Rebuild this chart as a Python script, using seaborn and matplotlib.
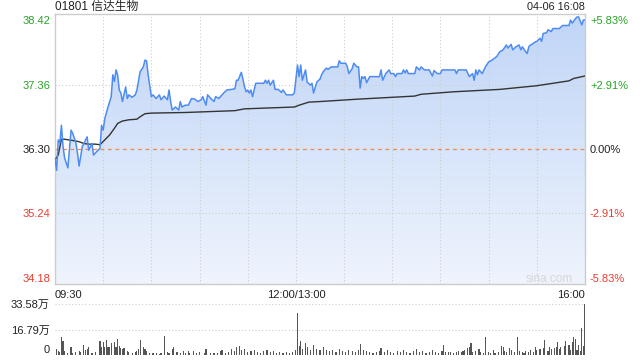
import numpy as np
import pandas as pd
import matplotlib
matplotlib.use("Agg")
import matplotlib.pyplot as plt
from matplotlib.colors import LinearSegmentedColormap
import seaborn as sns

# ---------------- data ----------------
title = "01801 信达生物"
stamp = "04-06 16:08"
prev_close = 36.30
price_ticks = [38.42, 37.36, 36.30, 35.24, 34.18]
price_tick_labels = ["38.42", "37.36", "36.30", "35.24", "34.18"]
pct_labels = ["+5.83%", "+2.91%", "0.00%", "-2.91%", "-5.83%"]
time_labels = ["09:30", "12:00/13:00", "16:00"]
time_label_minutes = [0, 150, 330]          # trading minutes since 09:30
vol_ticks = [33.58, 16.79, 0]
vol_tick_labels = ["33.58万", "16.79万", "0"]

# price line (trading minute, price)
minute = [0, 1, 2, 3, 4, 5, 6, 8, 10, 11, 13, 14, 15, 17, 18, 20, 21, 23, 24, 26,
          28, 29, 30, 31, 33, 35, 36, 37, 38, 39, 40, 41, 42, 44, 45, 46, 48, 50, 51, 53,
          55, 56, 57, 58, 60, 61, 63, 65, 66, 68, 70, 71, 72, 73, 75, 77, 78, 79, 81,
          83, 85, 87, 89, 91, 92, 94, 95, 97, 99, 100, 102, 104, 105, 107, 110, 112, 113, 114, 116,
          117, 118, 119, 120, 121, 122, 123, 125, 127, 130, 131, 132, 133, 134, 136, 137, 139, 141, 142, 144,
          146, 148, 149, 151, 152, 153, 154, 156, 157, 159, 160, 161, 163, 165,
          166, 167, 169, 170, 172, 174, 176, 177, 178, 181, 182, 183, 185, 186, 188, 189, 190, 191, 192, 193,
          194, 196, 199, 202, 203, 204, 206, 208, 209, 211, 212, 213, 216, 217, 218, 219, 220, 223, 224, 225,
          227, 228, 230, 232, 233, 235, 236, 238, 240, 241, 245, 248,
          249, 250, 251, 256, 258, 260, 261, 262, 263, 264, 266, 268, 270, 272, 275, 277, 279, 281, 282, 284,
          285, 287, 289, 290, 291, 293, 294, 295, 296, 297, 299, 300, 302, 303, 304, 306, 307, 309, 310, 312,
          314, 316, 320, 321, 322, 324, 325, 326, 328, 329, 330]
price = [36.15, 35.95, 36.45, 36.40, 36.69, 36.34, 36.15, 35.99, 36.61, 36.56, 36.40, 36.23, 36.02, 36.34, 36.39, 36.50, 36.28, 36.39, 36.20, 36.26,
         36.31, 36.69, 36.61, 36.80, 36.99, 37.16, 37.52, 37.41, 37.60, 37.52, 37.27, 37.22, 37.08, 37.32, 37.13, 37.19, 37.15, 37.19, 37.27, 37.57,
         37.65, 37.76, 37.75, 37.52, 37.16, 37.19, 37.13, 37.19, 37.11, 37.17, 37.11, 37.27, 37.08, 36.94, 36.99, 36.94, 37.08, 36.99, 37.02,
         37.02, 37.13, 37.12, 37.08, 37.11, 37.16, 37.02, 37.19, 37.13, 37.08, 37.16, 37.13, 37.19, 37.22, 37.27, 37.28, 37.29, 37.43, 37.43, 37.56,
         37.45, 37.32, 37.24, 37.27, 37.22, 37.27, 37.16, 37.38, 37.38, 37.38, 37.43, 37.38, 37.43, 37.35, 37.43, 37.28, 37.28, 37.23, 37.27, 37.19,
         37.19, 37.19, 37.22, 37.68, 37.49, 37.68, 37.43, 37.60, 37.40, 37.35, 37.38, 37.22, 37.40, 37.45,
         37.52, 37.57, 37.63, 37.61, 37.65, 37.65, 37.65, 37.75, 37.71, 37.71, 37.65, 37.54, 37.62, 37.71, 37.65, 37.65, 37.30, 37.49, 37.46, 37.49,
         37.39, 37.49, 37.49, 37.49, 37.60, 37.43, 37.54, 37.60, 37.54, 37.54, 37.49, 37.54, 37.54, 37.60, 37.55, 37.60, 37.54, 37.54, 37.54, 37.65,
         37.60, 37.65, 37.60, 37.60, 37.60, 37.50, 37.59, 37.54, 37.54, 37.60, 37.60, 37.60,
         37.60, 37.54, 37.60, 37.60, 37.49, 37.54, 37.43, 37.60, 37.52, 37.60, 37.54, 37.65, 37.73, 37.76, 37.82, 37.90, 37.93, 38.01, 37.96, 38.02,
         37.93, 37.98, 38.01, 37.93, 37.98, 37.90, 37.87, 37.98, 38.01, 38.02, 38.06, 38.07, 38.12, 38.07, 38.20, 38.21, 38.26, 38.23, 38.28, 38.28,
         38.28, 38.33, 38.33, 38.42, 38.37, 38.44, 38.47, 38.47, 38.34, 38.42, 38.42]

# average-price line
avg_minute = [0, 2, 4, 6, 11, 15, 18, 21, 25, 28, 31, 34, 37, 39, 42, 46, 51, 53, 56, 60,
              81, 112, 118, 149, 152, 158, 165, 189, 224, 228, 248, 277, 300, 320, 323, 330]
avg_price = [36.12, 36.20, 36.46, 36.46, 36.44, 36.42, 36.39, 36.38, 36.38, 36.37, 36.45, 36.53, 36.64, 36.72, 36.76, 36.78, 36.79, 36.83, 36.88, 36.89,
             36.90, 36.93, 36.96, 36.99, 37.02, 37.07, 37.08, 37.12, 37.17, 37.20, 37.24, 37.28, 37.34, 37.42, 37.46, 37.50]

# volume (万股)
vol_minute = [1, 2, 3, 4, 5, 6, 8, 10, 11, 13, 15, 16, 18, 19, 20, 21, 23, 25, 28, 29,
              30, 31, 32, 33, 34, 35, 37, 38, 39, 40, 41, 42, 43, 45, 46, 48, 50, 51, 52, 53,
              55, 56, 57, 59, 61, 63, 65, 66, 68, 70, 71, 73, 74, 76, 78, 80, 81, 83, 84, 86,
              88, 90, 93, 94, 97, 99, 101,
              103, 104, 106, 108, 110, 112, 113, 115, 116, 118, 120, 122, 124, 126, 128, 130, 132, 134, 136, 138,
              140, 142, 144, 146, 148, 150, 151, 152, 153, 154, 156, 157, 159, 161, 163, 165, 167, 169, 171, 173,
              175, 177, 179, 181, 183, 185, 187, 189, 190, 192, 194, 196, 198, 200, 202, 203, 205, 207, 209, 211,
              213, 215, 217, 219, 221, 223, 225, 227, 229, 231, 233, 235, 237, 239,
              241, 242, 243, 245, 246, 248, 250, 251, 253, 254, 255, 257, 258, 259, 260, 262, 264, 265, 267, 268,
              270, 271, 273, 274, 276, 278, 279, 280, 281, 283, 284, 286, 288, 289, 291, 292, 293, 295, 296, 298,
              299, 300, 302, 304, 305, 307, 308, 309, 311, 312, 313, 314, 315, 317, 318, 320, 321, 322, 323, 324,
              325, 326, 327, 328, 329, 330]
vol_wan = [3.7, 2.8, 2.2, 11.6, 9.4, 2.5, 1.0, 5.1, 1.5, 2.0, 2.8, 2.0, 6.6, 3.0, 3.7, 5.0, 1.5, 2.0, 9.4, 5.5,
           8.8, 5.0, 9.9, 5.0, 5.0, 8.0, 8.8, 5.0, 10.4, 6.0, 4.4, 3.7, 4.4, 2.5, 2.0, 1.5, 2.0, 2.5, 4.0, 9.9,
           5.0, 3.7, 2.5, 1.5, 1.0, 1.5, 0.6, 1.0, 12.5, 2.0, 1.0, 3.7, 5.0, 2.0, 1.5, 2.5, 1.5, 2.5, 1.5, 2.5,
           1.5, 2.0, 1.5, 3.7, 1.5, 1.0, 1.5,
           2.5, 3.0, 1.5, 2.0, 4.0, 2.5, 5.5, 6.0, 3.0, 4.0, 2.0, 2.5, 3.5, 2.0, 1.5, 2.5, 3.0, 2.0, 2.5, 1.5,
           2.0, 1.5, 2.0, 1.5, 2.0, 3.0, 27.6, 6.0, 9.0, 4.0, 8.0, 5.0, 3.5, 6.5, 4.0, 3.0, 5.0, 3.5, 2.5, 3.0,
           2.0, 4.0, 2.5, 2.0, 3.0, 2.5, 2.0, 3.0, 7.0, 3.5, 2.5, 2.0, 1.5, 2.0, 2.5, 4.5, 2.0, 3.0, 2.0, 1.5,
           2.5, 2.0, 3.0, 2.0, 1.5, 2.5, 4.0, 2.0, 2.5, 1.5, 2.0, 3.5, 2.0, 1.5,
           2.9, 6.6, 2.2, 2.2, 1.8, 1.5, 2.2, 2.9, 2.2, 2.9, 3.3, 4.4, 5.0, 8.1, 2.2, 2.9, 3.7, 2.2, 1.5, 11.6,
           2.2, 1.5, 3.3, 1.5, 2.2, 5.9, 5.0, 2.9, 2.2, 4.4, 3.3, 2.2, 11.6, 2.9, 2.2, 1.5, 2.9, 2.2, 3.3, 2.2,
           5.0, 3.3, 3.7, 4.4, 9.9, 2.9, 5.0, 3.7, 4.4, 5.0, 8.8, 3.7, 5.0, 5.9, 9.4, 6.6, 3.3, 8.8, 11.6, 10.3,
           3.3, 6.6, 2.9, 17.5, 5.9, 33.58]

# ---------------- style ----------------
sns.set_theme(style="white")
plt.rcParams["font.family"] = ["Liberation Sans", "Noto Sans CJK SC", "DejaVu Sans"]

GREEN = "#27a327"
RED = "#ee3b2f"
DARK = "#222222"
GRID = "#cdcdcd"
label_colors = [GREEN, GREEN, DARK, RED, RED]

W, H = 640, 360
fig = plt.figure(figsize=(6.4, 3.6), dpi=100)
ax = fig.add_axes([55 / W, 1 - 284 / H, 530 / W, 270 / H])
axv = fig.add_axes([55 / W, 1 - 355 / H, 530 / W, 51 / H])

ymin, ymax = 34.081, 38.519
ax.set_xlim(0, 330)
ax.set_ylim(ymin, ymax)

df = pd.DataFrame({"minute": minute, "price": price})
dfa = pd.DataFrame({"minute": avg_minute, "avg": avg_price})

# gradient area under price line
poly = ax.fill_between(df["minute"], df["price"], ymin, facecolor="none", edgecolor="none")
grad = np.linspace(0, 1, 256).reshape(-1, 1)
cmap = LinearSegmentedColormap.from_list("g", ["#c0d5f7", "#eff4fd"])
im = ax.imshow(grad, extent=[0, 330, ymin, ymax], origin="upper", aspect="auto",
               cmap=cmap, zorder=1)
im.set_clip_path(poly.get_paths()[0], transform=ax.transData)

# grid
for m in range(30, 330, 30):
    ax.axvline(m, color=GRID, lw=0.8, ls=(0, (1, 2)), zorder=2)
for v in (price_ticks[1], price_ticks[3]):
    ax.axhline(v, color=GRID, lw=0.8, ls=(0, (1, 2)), zorder=2)
ax.axhline(prev_close, color="#f08a52", lw=0.9, ls=(0, (3, 3)), zorder=2)

sns.lineplot(data=df, x="minute", y="price", ax=ax, color="#4d8cf2", linewidth=1.1, zorder=4)
sns.lineplot(data=dfa, x="minute", y="avg", ax=ax, color="#333333", linewidth=1.0, zorder=3)
ax.set_xlabel("")
ax.set_ylabel("")

for s in ax.spines.values():
    s.set_color("#cccccc")
    s.set_linewidth(1.0)

ax.set_yticks(price_ticks)
ax.set_yticklabels(price_tick_labels)
ax.tick_params(axis="y", length=0, pad=3.6, labelsize=8)
for lab, c in zip(ax.get_yticklabels(), label_colors):
    lab.set_color(c)

ax.set_xticks(time_label_minutes)
ax.set_xticklabels(time_labels)
ax.tick_params(axis="x", length=0, pad=4, labelsize=8, labelcolor=DARK)
xl = ax.get_xticklabels()
xl[0].set_ha("left")
xl[2].set_ha("right")

ax2 = ax.twinx()
ax2.set_ylim(ymin, ymax)
ax2.set_yticks(price_ticks)
ax2.set_yticklabels(pct_labels)
ax2.tick_params(axis="y", length=0, pad=3.6, labelsize=8)
for lab, c in zip(ax2.get_yticklabels(), label_colors):
    lab.set_color(c)
for s in ax2.spines.values():
    s.set_visible(False)
ax2.grid(False)

ax.text(0.977, 0.02, "sina.com", transform=ax.transAxes, ha="right", va="center",
        color="#d6d6d6", fontsize=8.5, zorder=5)

fig.text(55 / W, 1 - 7 / H, title, ha="left", va="center", fontsize=8.5, color=DARK)
fig.text(585 / W, 1 - 7 / H, stamp, ha="right", va="center", fontsize=7.8, color=DARK)

# volume panel
axv.bar(vol_minute, vol_wan, width=0.7, color="#555555", linewidth=0)
axv.set_xlim(0, 330)
axv.set_ylim(0, 33.58)
for v in vol_ticks[:2]:
    axv.axhline(v, color=GRID, lw=0.8, ls=(0, (1, 2)), zorder=0)
for s in axv.spines.values():
    s.set_visible(False)
axv.set_xticks([])
axv.set_yticks(vol_ticks)
axv.set_yticklabels(vol_tick_labels)
axv.tick_params(axis="y", length=0, pad=3.6, labelsize=8, labelcolor=DARK)
vl = axv.get_yticklabels()
vl[2].set_va("bottom")
axv.grid(False)

fig.savefig("out.png", dpi=100)
